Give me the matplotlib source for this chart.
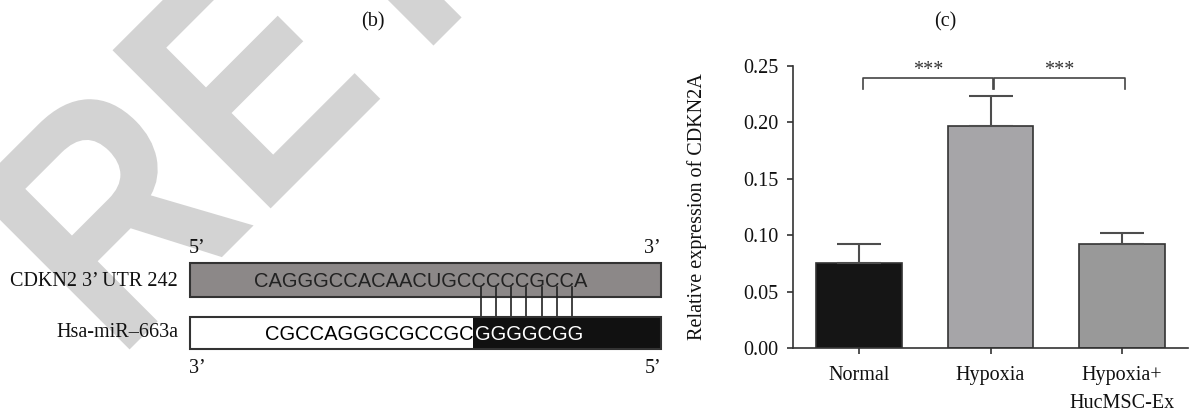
import matplotlib.pyplot as plt
from matplotlib.patches import Rectangle, PathPatch
from matplotlib.textpath import TextPath, text_to_path
from matplotlib.font_manager import FontProperties
from matplotlib.transforms import Affine2D

plt.rcParams['font.family'] = 'Liberation Serif'

# (c) qPCR of CDKN2A
groups = ['Normal', 'Hypoxia', 'Hypoxia+\nHucMSC-Ex']
means = [0.075, 0.197, 0.092]
sems = [0.0175, 0.026, 0.010]
bar_colors = ['#151515', '#a6a5a8', '#999999']
comparisons = [(0, 1, '***'), (1, 2, '***')]
y_ticks = [0.00, 0.05, 0.10, 0.15, 0.20, 0.25]

# (b) binding site of miR-663a in the CDKN2 3' UTR
utr_name = 'CDKN2 3’ UTR 242'
mir_name = 'Hsa-miR–663a'
utr_seq = 'CAGGGCCACAACUGCCCCCGCCA'
mir_free = 'CGCCAGGGCGCCGC'
mir_seed = 'GGGGCGG'
utr_paired_start = 15   # first UTR base paired with the seed

fig = plt.figure(figsize=(11.89, 4.11), dpi=100)

# panel (b) is laid out in pixel units
ax_b = fig.add_axes([0, 0, 1, 1])
ax_b.set_xlim(0, 1189)
ax_b.set_ylim(411, 0)
ax_b.axis('off')

# watermark
wm_path = TextPath((0, 0), 'RETRACTED', size=325,
                   prop=FontProperties(family='Liberation Sans', weight='bold'))
wm_tr = Affine2D().scale(0.85, -1).rotate_deg(-45).translate(116.5, 362.5) + ax_b.transData
ax_b.add_patch(PathPatch(wm_path, transform=wm_tr, facecolor='#d3d3d3',
                         edgecolor='none', zorder=0))

box_l, box_r = 190, 661
utr_top, utr_bot = 263, 297
mir_top, mir_bot = 317, 349
seed_x = 473
utr_x0, free_x0, seed_x0 = 254, 265, 475
utr_base, mir_base = 287, 340

ax_b.add_patch(Rectangle((box_l, utr_top), box_r - box_l, utr_bot - utr_top,
                         facecolor='#8c8888', edgecolor='#333333', lw=1.5, zorder=2))
white_part = Rectangle((box_l, mir_top), seed_x - box_l, mir_bot - mir_top,
                       facecolor='white', edgecolor='none', zorder=2)
black_part = Rectangle((seed_x, mir_top), box_r - seed_x, mir_bot - mir_top,
                       facecolor='#111111', edgecolor='none', zorder=2)
ax_b.add_patch(white_part)
ax_b.add_patch(black_part)
ax_b.add_patch(Rectangle((box_l, mir_top), box_r - box_l, mir_bot - mir_top,
                         facecolor='none', edgecolor='#333333', lw=1.5, zorder=4))

seq_font = dict(family='Liberation Sans', fontsize=14.5)
ax_b.text(utr_x0, utr_base, utr_seq, color='#222222', ha='left', va='baseline',
          zorder=3, **seq_font)
t = ax_b.text(free_x0, mir_base, mir_free, color='black', ha='left', va='baseline',
              zorder=3, **seq_font)
t.set_clip_path(white_part)
ax_b.text(seed_x0, mir_base, mir_seed, color='white', ha='left', va='baseline',
          zorder=3, **seq_font)

seq_prop = FontProperties(family='Liberation Sans', size=14.5)


def char_centre(seq, i, x0):
    w_to = text_to_path.get_text_width_height_descent(seq[:i + 1], seq_prop, ismath=False)[0]
    w_c = text_to_path.get_text_width_height_descent(seq[i], seq_prop, ismath=False)[0]
    return x0 + (w_to - w_c / 2) * 100 / 72


for k in range(len(mir_seed)):
    xa = char_centre(utr_seq, utr_paired_start + k, utr_x0)
    xb = char_centre(mir_seed, k, seed_x0)
    xm = (xa + xb) / 2
    ax_b.plot([xm, xm], [utr_base, mir_top], color='#222222', lw=1.2, zorder=3)

lab = dict(fontsize=14.5, color='#111111', zorder=5)
ax_b.text(box_l - 1, 253, '5’', ha='left', va='baseline', **lab)
ax_b.text(box_r, 253, '3’', ha='right', va='baseline', **lab)
ax_b.text(box_l - 1, 373, '3’', ha='left', va='baseline', **lab)
ax_b.text(box_r, 373, '5’', ha='right', va='baseline', **lab)
ax_b.text(178, 286, utr_name, ha='right', va='baseline', **lab)
ax_b.text(178, 337, mir_name, ha='right', va='baseline', **lab)
ax_b.text(373, 22, '(b)', ha='center', va='center', **lab)
ax_b.text(945, 22, '(c)', ha='center', va='center', **lab)

# panel (c)
ax_c = fig.add_axes([793 / 1189, 63 / 411, 395 / 1189, 282 / 411])
x = list(range(len(groups)))
ax_c.bar(x, means, width=0.65, color=bar_colors, edgecolor='#333333', linewidth=1.2,
         yerr=[[0] * len(sems), sems], capsize=15.5,
         error_kw=dict(ecolor='#4d4d4d', elinewidth=1.5, capthick=1.5))
ax_c.set_xlim(-0.5, 2.5)
ax_c.set_ylim(0, 0.25)
for s in ['top', 'right']:
    ax_c.spines[s].set_visible(False)
for s in ['left', 'bottom']:
    ax_c.spines[s].set_color('#333333')
    ax_c.spines[s].set_linewidth(1.2)

ax_c.set_yticks(y_ticks, [f'{v:.2f}' for v in y_ticks])
ax_c.set_xticks(x, groups)
for lbl in ax_c.get_xticklabels():
    lbl.set_linespacing(1.65)
ax_c.tick_params(axis='both', direction='out', length=4.5, width=1.2, color='#333333',
                 labelsize=14.5, labelcolor='#111111')
ax_c.tick_params(axis='y', pad=6)
ax_c.tick_params(axis='x', pad=8.5)
ax_c.set_ylabel('Relative expression of CDKN2A', fontsize=14.5, color='#111111')
ax_c.yaxis.set_label_coords(-0.218, 0.5)

br_lo, br_hi = 0.2296, 0.2394
for a, b, label in comparisons:
    x0 = a + 0.03
    x1 = b + 0.018
    ax_c.plot([x0, x0, x1, x1], [br_lo, br_hi, br_hi, br_lo], color='#444444',
              lw=1.2, clip_on=False)
    ax_c.text((x0 + x1) / 2, 0.242, label, ha='center', va='baseline',
              fontsize=14.5, color='#333333', clip_on=False)

fig.savefig('out.png', dpi=100)
